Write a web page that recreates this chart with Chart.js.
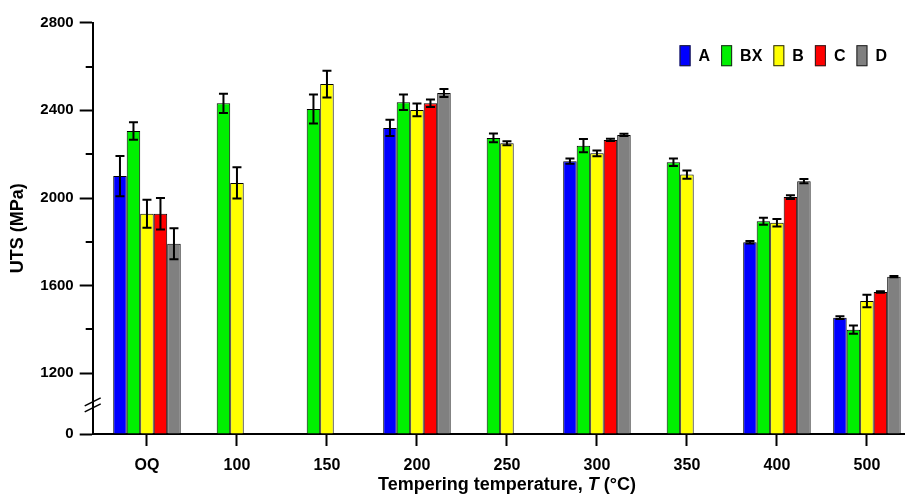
<!DOCTYPE html>
<html>
<head>
<meta charset="utf-8">
<script src="https://cdn.jsdelivr.net/npm/chart.js@4.4.1/dist/chart.umd.min.js"></script>
<style>
  html, body { margin: 0; padding: 0; background: #fff; }
</style>
</head>
<body>
<canvas id="utsChart" width="905" height="495"></canvas>
<script>
// tempering conditions
const categories = ['OQ', '100', '150', '200', '250', '300', '350', '400', '500'];
const seriesNames = ['A', 'BX', 'B', 'C', 'D'];
const seriesColors = ['#0000ff', '#00f000', '#ffff00', '#ff0000', '#808080'];

// UTS (MPa) and error (+/-)
const utsA  = [2100, null, null, 2320, null, 2168, null, 1798, 1454];
const errA  = [92, null, null, 37, null, 12, null, 6, 6];
const utsBX = [2306, 2432, 2406, 2437, 2274, 2239, 2163, 1894, 1399];
const errBX = [40, 44, 66, 35, 20, 30, 17, 16, 19];
const utsB  = [1928, 2069, 2520, 2402, 2250, 2204, 2107, 1887, 1530];
const errB  = [64, 71, 61, 29, 9, 13, 19, 17, 28];
const utsC  = [1928, null, null, 2432, null, 2265, null, 2004, 1571];
const errC  = [72, null, null, 17, null, 5, null, 8, 3];
const utsD  = [1791, null, null, 2479, null, 2288, null, 2077, 1641];
const errD  = [71, null, null, 18, null, 5, null, 10, 3];

const yTickValues = [0, 1200, 1400, 1600, 1800, 2000, 2200, 2400, 2600, 2800];
const yTickLabels = ['0', '1200', '', '1600', '', '2000', '', '2400', '', '2800'];

// broken axis: 0..1200 squeezed into BREAK_SPAN axis units
const BREAK_AT = 1200;
const BREAK_SPAN = 277;
const toAxis = v => v == null ? null : (v <= BREAK_AT ? v * BREAK_SPAN / BREAK_AT : v - BREAK_AT + BREAK_SPAN);

// category axis window (in category index units)
const X_START = -0.603;
const X_RANGE = 9.026;

const FONT = "'Liberation Sans', Arial, sans-serif";
const seriesValues = [utsA, utsBX, utsB, utsC, utsD];
const seriesErrors = [errA, errBX, errB, errC, errD];

const xWindow = {
  id: 'xWindow',
  afterLayout(chart) {
    const x = chart.scales.x;
    x._startValue = X_START;
    x._valueRange = X_RANGE;
  }
};

const errorBars = {
  id: 'errorBars',
  afterDatasetsDraw(chart) {
    const ctx = chart.ctx, y = chart.scales.y;
    ctx.save();
    ctx.strokeStyle = '#000';
    ctx.lineWidth = 2;
    seriesValues.forEach((vals, i) => {
      const meta = chart.getDatasetMeta(i);
      meta.data.forEach((bar, j) => {
        const v = vals[j], e = seriesErrors[i][j];
        if (v == null || e == null) return;
        const hi = y.getPixelForValue(toAxis(v + e));
        const lo = y.getPixelForValue(toAxis(v - e));
        const cap = 4.5;
        ctx.beginPath();
        ctx.moveTo(bar.x, hi); ctx.lineTo(bar.x, lo);
        ctx.moveTo(bar.x - cap, hi); ctx.lineTo(bar.x + cap, hi);
        ctx.moveTo(bar.x - cap, lo); ctx.lineTo(bar.x + cap, lo);
        ctx.stroke();
      });
    });
    ctx.restore();
  }
};

const decorations = {
  id: 'decorations',
  afterDraw(chart) {
    const ctx = chart.ctx, area = chart.chartArea, y = chart.scales.y, x = chart.scales.x;
    ctx.save();

    // minor ticks on y
    ctx.strokeStyle = '#000';
    ctx.lineWidth = 2;
    yTickValues.forEach((v, i) => {
      if (yTickLabels[i] !== '') return;
      const py = Math.round(y.getPixelForValue(toAxis(v)));
      ctx.beginPath();
      ctx.moveTo(area.left - 7, py); ctx.lineTo(area.left, py);
      ctx.stroke();
    });

    // axis break marks
    const by = y.getPixelForValue(BREAK_SPAN * 0.48);
    ctx.lineWidth = 1.5;
    [-3, 3].forEach(d => {
      ctx.beginPath();
      ctx.moveTo(area.left - 8, by + d + 4);
      ctx.lineTo(area.left + 8, by + d - 4);
      ctx.stroke();
    });

    // legend
    ctx.font = 'bold 16px ' + FONT;
    ctx.textBaseline = 'middle';
    const boxW = 11, boxH = 21, gap = 8, itemGap = 11;
    const widths = seriesNames.map(n => ctx.measureText(n).width);
    const total = widths.reduce((s, w) => s + boxW + gap + w, 0) + itemGap * (seriesNames.length - 1);
    let lx = area.right - 18 - total;
    const ly = area.top + 22.5;
    seriesNames.forEach((n, i) => {
      ctx.fillStyle = seriesColors[i];
      ctx.fillRect(lx, ly, boxW, boxH);
      ctx.lineWidth = 1;
      ctx.strokeStyle = '#222';
      ctx.strokeRect(lx + 0.5, ly + 0.5, boxW - 1, boxH - 1);
      ctx.fillStyle = '#000';
      ctx.textAlign = 'left';
      ctx.fillText(n, lx + boxW + gap, ly + boxH / 2 + 1);
      lx += boxW + gap + widths[i] + itemGap;
    });

    // x axis title with italic T
    const parts = [
      ['Tempering temperature, ', 'bold 18px ' + FONT],
      ['T', 'italic bold 18px ' + FONT],
      [' (°C)', 'bold 18px ' + FONT]
    ];
    let tw = 0;
    parts.forEach(p => { ctx.font = p[1]; tw += ctx.measureText(p[0]).width; });
    const cx = (x.getPixelForValue(0) + x.getPixelForValue(categories.length - 1)) / 2;
    let tx = cx - tw / 2;
    ctx.fillStyle = '#000';
    ctx.textAlign = 'left';
    parts.forEach(p => {
      ctx.font = p[1];
      ctx.fillText(p[0], tx, 485);
      tx += ctx.measureText(p[0]).width;
    });

    ctx.restore();
  }
};

const datasets = seriesNames.map((name, i) => ({
  label: name,
  data: seriesValues[i].map(toAxis),
  backgroundColor: seriesColors[i],
  borderColor: '#000',
  borderWidth: 1,
  categoryPercentage: 0.75,
  barPercentage: 1.0
}));

new Chart(document.getElementById('utsChart'), {
  type: 'bar',
  data: { labels: categories, datasets: datasets },
  options: {
    responsive: false,
    animation: false,
    devicePixelRatio: 1,
    layout: { padding: { top: 22.7, right: 0, bottom: 0, left: 0 } },
    plugins: {
      legend: { display: false },
      tooltip: { enabled: false }
    },
    scales: {
      x: {
        grid: { drawOnChartArea: false, offset: false, tickLength: 12, tickWidth: 2, tickColor: '#000' },
        border: { color: '#000', width: 2 },
        ticks: { color: '#000', font: { family: FONT, size: 16, weight: 'bold' }, padding: 10, maxRotation: 0, autoSkip: false },
        afterFit: s => { s.height = 61; }
      },
      y: {
        min: 0,
        max: toAxis(2800),
        afterBuildTicks: s => { s.ticks = yTickValues.map(v => ({ value: toAxis(v) })); },
        grid: {
          drawOnChartArea: false, tickLength: 13, tickWidth: 2,
          tickColor: c => yTickLabels[c.index] === '' ? 'rgba(0,0,0,0)' : '#000'
        },
        border: { color: '#000', width: 2 },
        ticks: {
          color: '#000', font: { family: FONT, size: 15, weight: 'bold' }, padding: 6,
          callback: (val, idx) => yTickLabels[idx]
        },
        title: {
          display: true, text: 'UTS (MPa)', color: '#000',
          font: { family: FONT, size: 18, weight: 'bold' }, padding: { top: 7, bottom: 0 }
        },
        afterFit: s => { s.width = 92.7; }
      }
    }
  },
  plugins: [xWindow, errorBars, decorations]
});
</script>
</body>
</html>
